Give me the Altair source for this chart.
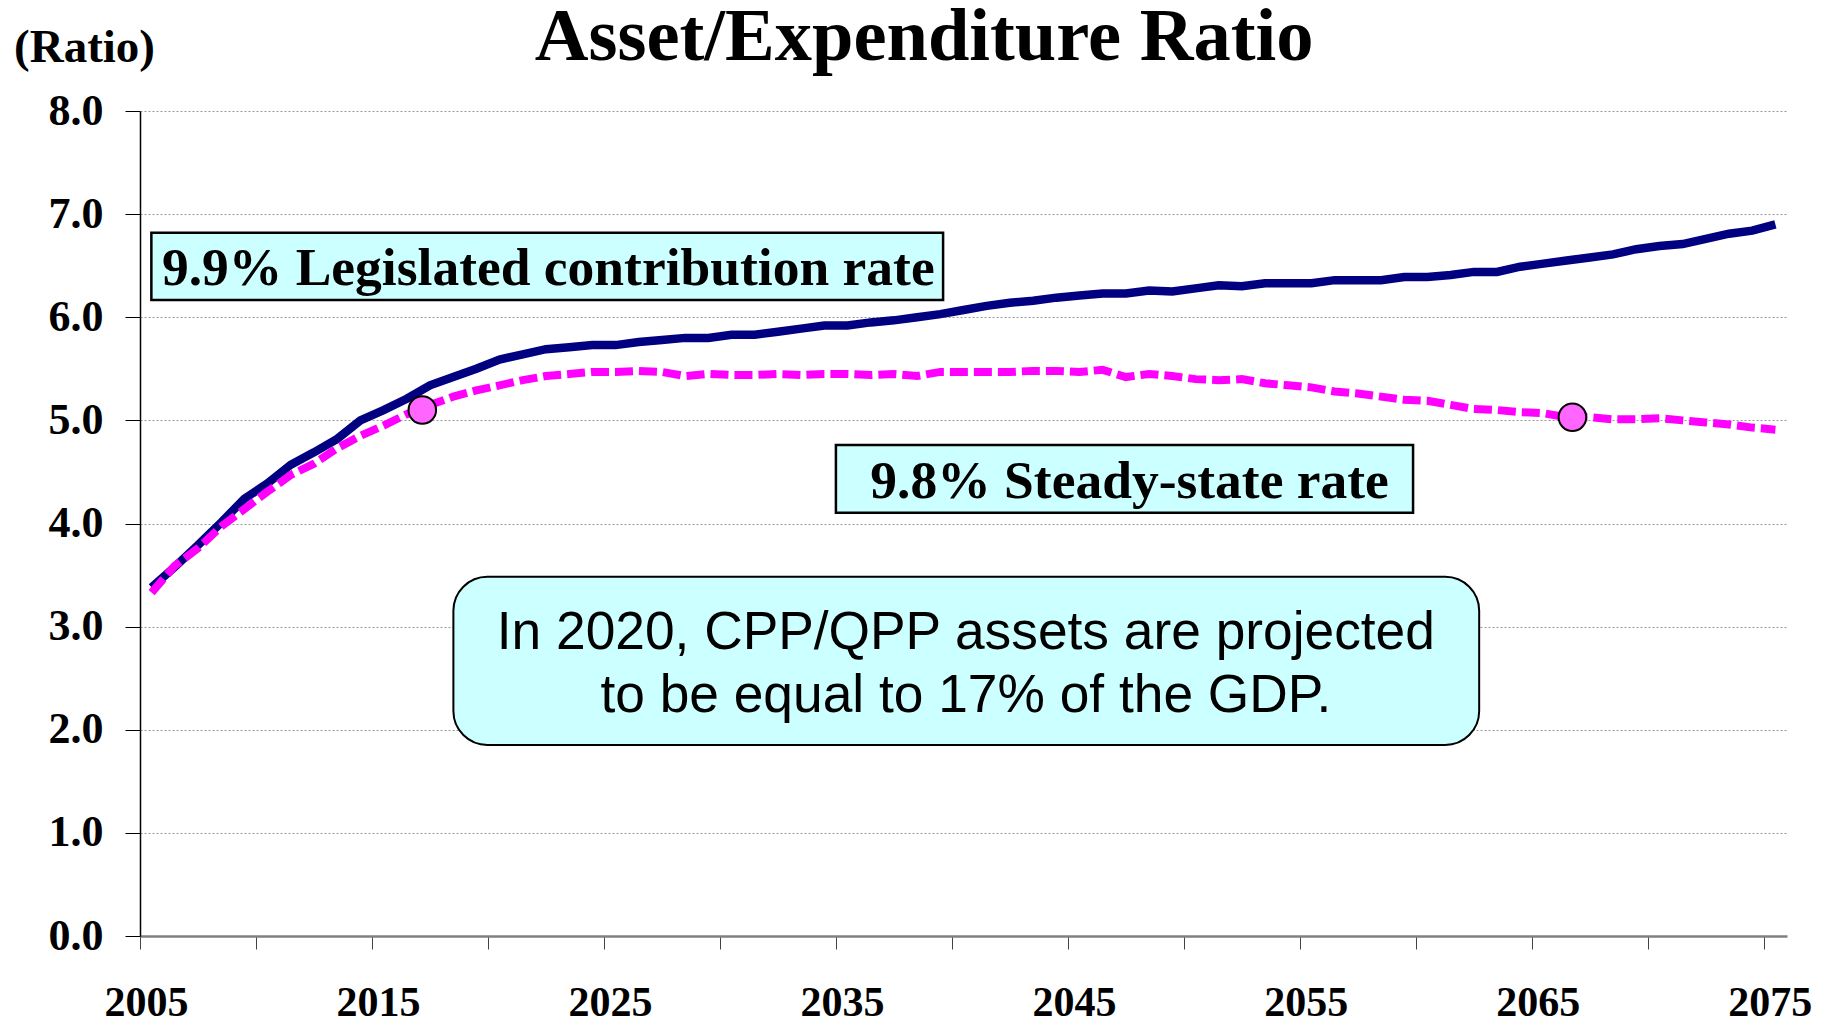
import altair as alt
import pandas as pd

# ---- data ----
years = list(range(2005, 2076))
legislated = [3.38, 3.58, 3.79, 4.01, 4.24, 4.39, 4.57, 4.69, 4.82, 5.00,
              5.10, 5.21, 5.34, 5.42, 5.50, 5.59, 5.64, 5.69, 5.71, 5.73,
              5.73, 5.76, 5.78, 5.80, 5.80, 5.83, 5.83, 5.86, 5.89, 5.92,
              5.92, 5.95, 5.97, 6.00, 6.03, 6.07, 6.11, 6.14, 6.16, 6.19,
              6.21, 6.23, 6.23, 6.26, 6.25, 6.28, 6.31, 6.30, 6.33, 6.33,
              6.33, 6.36, 6.36, 6.36, 6.39, 6.39, 6.41, 6.44, 6.44, 6.49,
              6.52, 6.55, 6.58, 6.61, 6.66, 6.69, 6.71, 6.76, 6.81, 6.84,
              6.90]
steady = [3.33, 3.59, 3.76, 3.97, 4.14, 4.31, 4.47, 4.58, 4.73, 4.85,
          4.95, 5.06, 5.15, 5.23, 5.29, 5.34, 5.39, 5.43, 5.45, 5.47,
          5.47, 5.48, 5.47, 5.43, 5.45, 5.44, 5.44, 5.45, 5.44, 5.45,
          5.45, 5.44, 5.45, 5.43, 5.47, 5.47, 5.47, 5.47, 5.48, 5.48,
          5.47, 5.49, 5.42, 5.45, 5.43, 5.40, 5.39, 5.40, 5.36, 5.34,
          5.32, 5.28, 5.26, 5.23, 5.20, 5.19, 5.15, 5.11, 5.10, 5.08,
          5.07, 5.03, 5.03, 5.01, 5.01, 5.02, 5.00, 4.98, 4.96, 4.93,
          4.91]
marker_years = [2016.67, 2066.25]
marker_values = [5.10, 5.03]

y_ticks = [0, 1, 2, 3, 4, 5, 6, 7, 8]
x_ticks = [2004.5 + 5 * i for i in range(15)]

title_text = "Asset/Expenditure Ratio"
unit_text = "(Ratio)"
label1 = "9.9% Legislated contribution rate"
label2 = "9.8% Steady-state rate"
note_lines = ["In 2020, CPP/QPP assets are projected",
              "to be equal to 17% of the GDP."]

# ---- scales / axes ----
xs = alt.Scale(domain=[2004.5, 2075.5], nice=False, zero=False)
ys = alt.Scale(domain=[0, 8], nice=False)

x_axis = alt.Axis(values=x_ticks, grid=False, tickSize=13, tickColor="#444444",
                  tickWidth=1, domainColor="#808080", domainWidth=2.5,
                  labelExpr="datum.value % 10 == 4.5 ? format(datum.value + 0.5, 'd') : ''",
                  labelFlush=False, labelOverlap=False, labelBaseline="alphabetic",
                  labelPadding=66, labelOffset=6, labelFont="Liberation Serif",
                  labelFontWeight="bold", labelFontSize=42, labelColor="black",
                  title=None)
y_axis = alt.Axis(values=y_ticks, format=".1f", grid=True, gridColor="#999999",
                  gridDash=[2, 2], gridWidth=1, tickSize=15, tickColor="black",
                  domainColor="black", domainWidth=1.5, labelPadding=22,
                  labelFont="Liberation Serif", labelFontWeight="bold",
                  labelFontSize=44, labelColor="black", title=None)


def X(f):
    return alt.X(f, type="quantitative", scale=xs, axis=x_axis, title=None)


def Y(f):
    return alt.Y(f, type="quantitative", scale=ys, axis=y_axis, title=None)


lines_df = pd.DataFrame({"year": years, "leg": legislated, "ss": steady})
markers_df = pd.DataFrame({"year": marker_years, "v": marker_values})

solid = alt.Chart(lines_df).mark_line(color="#000080", strokeWidth=8.5,
                                      strokeJoin="miter").encode(x=X("year"), y=Y("leg"))
dashed = alt.Chart(lines_df).mark_line(color="#FF00FF", strokeWidth=8,
                                       strokeDash=[18, 6], strokeCap="butt").encode(
    x=X("year"), y=Y("ss"))
points = alt.Chart(markers_df).mark_point(shape="circle", filled=True, fill="#FF66FF",
                                          stroke="black", strokeWidth=2, size=760,
                                          opacity=1).encode(x=X("year"), y=Y("v"))

# ---- annotation boxes (placed in data coordinates) ----
boxes_df = pd.DataFrame({
    "x0": [2004.99, 2034.5], "x1": [2039.12, 2059.38],
    "y0": [6.82, 4.761], "y1": [6.167, 4.105]})
boxes = alt.Chart(boxes_df).mark_rect(fill="#CCFFFF", stroke="black",
                                      strokeWidth=2.5).encode(
    x=X("x0"), x2="x1", y=Y("y0"), y2="y1")

note_box_df = pd.DataFrame({"x0": [2018.01], "x1": [2062.23], "y0": [3.484], "y1": [1.852]})
note_box = alt.Chart(note_box_df).mark_rect(fill="#CCFFFF", stroke="black",
                                            strokeWidth=2, cornerRadius=34).encode(
    x=X("x0"), x2="x1", y=Y("y0"), y2="y1")

serif_df = pd.DataFrame({"t": [label1, label2], "x": [2022.1, 2047.16],
                         "y": [6.313, 4.247]})
serif_text = alt.Chart(serif_df).mark_text(font="Liberation Serif", fontWeight="bold",
                                           fontSize=53.5, align="center",
                                           baseline="alphabetic", color="black").encode(
    x=X("x"), y=Y("y"), text="t:N")

note_df = pd.DataFrame({"t": note_lines, "x": [2040.1, 2040.1], "y": [2.780, 2.175]})
note_text = alt.Chart(note_df).mark_text(font="Liberation Sans", fontSize=53.3,
                                         align="center", baseline="alphabetic",
                                         color="black").encode(
    x=X("x"), y=Y("y"), text="t:N")

title_df = pd.DataFrame({"t": [title_text], "x": [2038.3], "y": [8.49]})
title = alt.Chart(title_df).mark_text(font="Liberation Serif", fontWeight="bold",
                                      fontSize=74.5, align="center", baseline="alphabetic",
                                      color="black").encode(
    x=X("x"), y=Y("y"), text="t:N")

unit_df = pd.DataFrame({"t": [unit_text], "x": [1999.07], "y": [8.475]})
unit = alt.Chart(unit_df).mark_text(font="Liberation Serif", fontWeight="bold",
                                    fontSize=47, align="left", baseline="alphabetic",
                                    color="black").encode(
    x=X("x"), y=Y("y"), text="t:N")

chart = alt.layer(boxes, note_box, solid, dashed, points, serif_text, note_text,
                  title, unit).properties(
    width=1647, height=825,
    padding={"left": 132, "top": 103, "right": 33, "bottom": 88},
    autosize=alt.AutoSizeParams(type="none"),
    background="white",
).configure_view(stroke=None)

chart.save("out.html", embed_options={"renderer": "svg", "actions": False})
